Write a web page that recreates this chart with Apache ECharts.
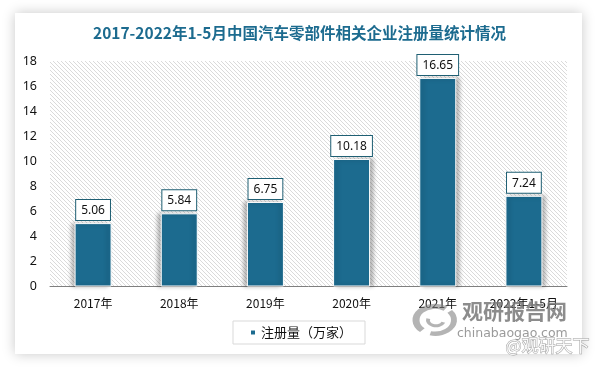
<!DOCTYPE html>
<html><head><meta charset="utf-8">
<style>html,body{margin:0;padding:0;background:#fff}#c{width:599px;height:368px}</style>
<script src="https://cdn.jsdelivr.net/npm/echarts@6/dist/echarts.min.js"></script>
</head><body><div id="c"></div>
<script>
const categories = ['2017年','2018年','2019年','2020年','2021年','2022年1-5月'];
const values = [5.06,5.84,6.75,10.18,16.65,7.24];
const yTicks = {min:0,max:18,interval:2};
const seriesName = '注册量（万家）';
const titleText = '2017-2022年1-5月中国汽车零部件相关企业注册量统计情况';
const FONT = '"Noto Sans CJK SC","Noto Sans",sans-serif';
const NUM = '"Noto Sans",sans-serif';
const TEAL = '#1c6b8f';

const hatch = document.createElement('canvas');
hatch.width = 4; hatch.height = 4;
const h = hatch.getContext('2d');
h.fillStyle = '#ffffff'; h.fillRect(0,0,4,4);
h.strokeStyle = '#dadada'; h.lineWidth = 1;
h.beginPath();
h.moveTo(-1,-1);h.lineTo(5,5);
h.moveTo(-1,3);h.lineTo(1,5);
h.moveTo(3,-1);h.lineTo(5,1);
h.stroke();

const mark = 'rgba(130,130,130,0.6)';
const chart = echarts.init(document.getElementById('c'),null,{renderer:'canvas'});
chart.setOption({
  animation:false,
  backgroundColor:'#ffffff',
  title:{text:titleText,left:'center',top:22,padding:0,
    textStyle:{fontFamily:FONT,fontSize:15.5,fontWeight:'bold',color:TEAL,lineHeight:22}},
  grid:{left:50,right:32,top:61,bottom:81.5,show:true,borderWidth:0,
    backgroundColor:{image:hatch,repeat:'repeat'}},
  legend:{show:true,top:321,left:233,itemWidth:6,itemHeight:6,icon:'rect',
    borderColor:'#d9d9d9',borderWidth:1,padding:[5,13,5,16],
    textStyle:{fontFamily:FONT,fontSize:13,color:'#111'}},
  xAxis:{type:'category',data:categories,
    axisLine:{lineStyle:{color:'#7f7f7f',width:1}},axisTick:{show:false},
    axisLabel:{interval:0,margin:11,color:'#111',fontFamily:FONT,fontSize:12}},
  yAxis:{type:'value',min:yTicks.min,max:yTicks.max,interval:yTicks.interval,
    axisLine:{show:false},axisTick:{show:false},splitLine:{show:false},
    axisLabel:{margin:13,color:'#111',fontFamily:NUM,fontSize:12.5}},
  series:[{
    name:seriesName,type:'bar',barWidth:37,
    data:values.map((v,i)=>({value:v,itemStyle:{shadowOffsetX:i<3?-3:3}})),
    itemStyle:{color:TEAL,borderColor:'#ffffff',borderWidth:1,
      shadowColor:'rgba(0,0,0,0.28)',shadowBlur:4,shadowOffsetY:0},
    label:{show:true,position:'top',distance:3,color:'#111',
      fontFamily:NUM,fontSize:12,lineHeight:13,
      backgroundColor:'#ffffff',borderColor:'#1f5f73',borderWidth:1,
      padding:[4,5,3,5],formatter:p=>p.value.toFixed(2)}
  }],
  graphic:[
    {type:'rect',z:-10,silent:true,shape:{x:15,y:13,width:567,height:341},
      style:{fill:'#ffffff',shadowColor:'rgba(0,0,0,0.22)',shadowBlur:12}},
    {type:'arc',z:20,silent:true,x:435,y:320,scaleY:0.72,shape:{cx:0,cy:0,r:19,startAngle:2.3,endAngle:5.3},
      style:{fill:null,stroke:mark,lineWidth:7}},
    {type:'arc',z:20,silent:true,x:435,y:320,scaleY:0.72,shape:{cx:0,cy:0,r:19,startAngle:5.6,endAngle:8.1},
      style:{fill:null,stroke:mark,lineWidth:6}},
    {type:'arc',z:20,silent:true,x:436,y:320,scaleY:0.72,shape:{cx:0,cy:0,r:8,startAngle:0.4,endAngle:3.4},
      style:{fill:null,stroke:mark,lineWidth:4}},
    {type:'text',z:20,silent:true,left:462,top:301,
      style:{text:'观研报告网',fontFamily:FONT,fontWeight:'bold',fontSize:21,fill:'rgba(120,120,120,0.85)'}},
    {type:'text',z:20,silent:true,left:457,top:327,
      style:{text:'chinabaogao.com',fontFamily:'"DejaVu Sans",sans-serif',fontSize:12.5,fill:'rgba(120,120,120,0.75)'}},
    {type:'text',z:21,silent:true,left:505,top:337,
      style:{text:'@观研天下',fontFamily:FONT,fontSize:17,fill:'rgba(255,255,255,0.9)',stroke:'rgba(130,130,130,0.75)',lineWidth:1}}
  ]
});
</script></body></html>
